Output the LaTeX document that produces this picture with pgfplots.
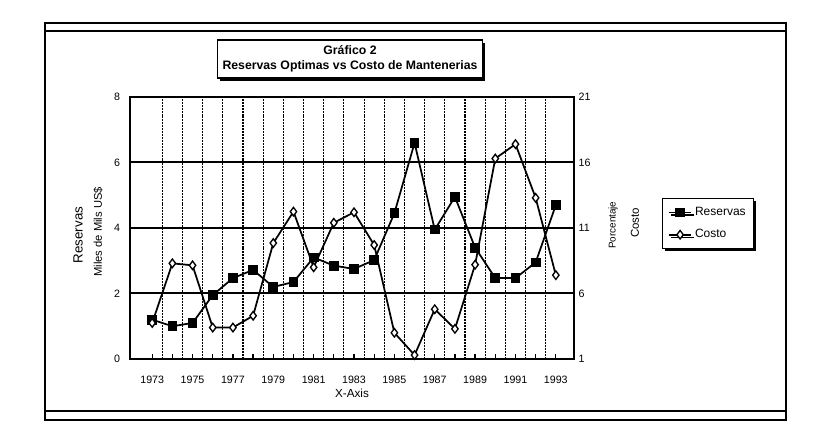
\documentclass[border=0pt]{standalone}
\usepackage{fontspec}
\setmainfont{Liberation Sans}
\usepackage{pgfplots}
\pgfplotsset{compat=1.18}
\usetikzlibrary{shadows}

\pgfplotstableread{
year res
1973 1.20
1974 1.00
1975 1.10
1976 1.95
1977 2.47
1978 2.72
1979 2.20
1980 2.35
1981 3.10
1982 2.85
1983 2.75
1984 3.02
1985 4.45
1986 6.60
1987 3.95
1988 4.95
1989 3.40
1990 2.47
1991 2.47
1992 2.95
1993 4.70
}\reservas

\pgfplotstableread{
year cost
1973 3.75
1974 8.30
1975 8.15
1976 3.40
1977 3.40
1978 4.30
1979 9.85
1980 12.25
1981 8.00
1982 11.40
1983 12.20
1984 9.70
1985 3.00
1986 1.30
1987 4.80
1988 3.30
1989 8.20
1990 16.30
1991 17.40
1992 13.30
1993 7.40
}\costo

\begin{document}
\begin{tikzpicture}
\useasboundingbox (0,0) rectangle (618pt,330.75pt);
\fill[white] (0,0) rectangle (618pt,330.75pt);
\begin{scope}[x=0.75pt,y=-0.75pt,yshift=330.75pt]
  \draw[line width=1.5pt] (45,23) rectangle (786,420);
  \draw[line width=1.1pt] (45,31) -- (786,31);
  \draw[line width=1.3pt] (45,411) -- (786,411);
  \node[draw, line width=0.9pt, fill=white,
        drop shadow={shadow xshift=2pt,shadow yshift=-2pt,fill=black,opacity=1},
        minimum width=198.75pt, minimum height=28.5pt, align=center, inner sep=0pt,
        font=\bfseries\fontsize{9.2}{11.25}\selectfont] at (350,59)
        {Gráfico 2\\Reservas Optimas vs Costo de Mantenerias};
\end{scope}

\begin{axis}[
  at={(97.5pt,61.5pt)}, anchor=south west,
  width=333pt, height=196.5pt, scale only axis,
  xmin=1971.9, xmax=1993.9, ymin=0, ymax=8,
  axis line style={line width=1.2pt},
  xtick={1973,1974,...,1993},
  xticklabels={1973,,1975,,1977,,1979,,1981,,1983,,1985,,1987,,1989,,1991,,1993},
  xtick pos=left, tick align=inside,
  major tick length=3.75pt,
  xtick style={black, line width=0.9pt},
  ytick={0,2,4,6,8}, ytick pos=left,
  ytick style={draw=none},
  ymajorgrids=true,
  major grid style={black, line width=1.5pt},
  extra x ticks={1973.5,1974.5,...,1992.5},
  extra x tick labels={},
  extra x tick style={xmajorgrids=true, major tick length=0pt,
     major grid style={black, line width=0.8pt, dash pattern=on 1.5pt off 0.7pt}},
  /pgf/number format/assume math mode=true,
  ticklabel style={font=\fontsize{8}{9.6}\selectfont},
  xticklabel style={yshift=-9pt},
  yticklabel style={xshift=-4pt},
  xlabel={X-Axis},
  xlabel style={font=\fontsize{8.8}{10}\selectfont, at={(axis description cs:0.5,-0.13)}, anchor=center},
  ylabel={Reservas},
  ylabel style={font=\fontsize{10}{12}\selectfont, at={(axis description cs:-0.117,0.473)}, anchor=center},
  clip=false,
]
\addplot[black, line width=1.3pt, mark=square*, mark size=3pt, mark options={solid,fill=black}] table[x=year,y=res] {\reservas};
\node[rotate=90, font=\fontsize{8.4}{10}\selectfont] at (axis description cs:-0.072,0.485) {Miles de Mils US\$};
\end{axis}

\begin{axis}[
  at={(97.5pt,61.5pt)}, anchor=south west,
  width=333pt, height=196.5pt, scale only axis,
  xmin=1971.9, xmax=1993.9, ymin=1, ymax=21,
  axis x line=none, axis y line*=right,
  axis line style={line width=1.2pt},
  ytick={1,6,11,16,21},
  ytick style={draw=none},
  /pgf/number format/assume math mode=true,
  ticklabel style={font=\fontsize{8}{9.6}\selectfont},
  ylabel={Costo},
  ylabel style={font=\fontsize{8.6}{10}\selectfont, at={(axis description cs:1.137,0.519)}, anchor=center},
  legend style={at={(axis description cs:1.198,0.6145)}, anchor=north west,
     draw=black, line width=0.9pt, font=\fontsize{9}{10}\selectfont,
     drop shadow={shadow xshift=2pt,shadow yshift=-2pt,fill=black,opacity=1},
     inner xsep=4pt, inner ysep=4.5pt, row sep=5pt},
  legend cell align=left,
  clip=false,
]
\addlegendimage{black, line width=1.3pt, mark=square*, mark size=3pt, mark options={solid,fill=black}}
\addlegendentry{Reservas}
\addplot[black, line width=1.3pt, mark=diamond*, mark size=3.2pt, mark options={solid,fill=white,line width=1pt}] table[x=year,y=cost] {\costo};
\addlegendentry{Costo}
\node[rotate=90, font=\fontsize{7.4}{9}\selectfont] at (axis description cs:1.088,0.511) {Porcentaje};
\end{axis}
\end{tikzpicture}
\end{document}
